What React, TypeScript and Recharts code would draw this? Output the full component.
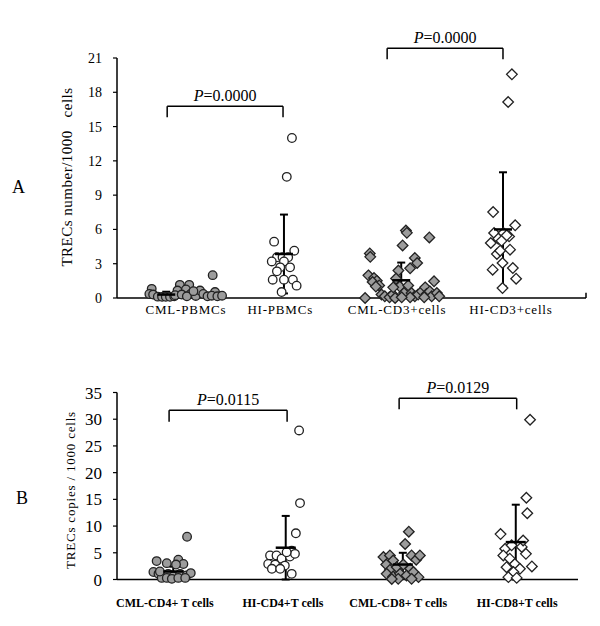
import React from 'react';
import { ScatterChart, Scatter, XAxis, YAxis, ErrorBar, ReferenceLine } from 'recharts';

// x values are positions along the horizontal axis (0-10), y values are TRECs / 1000 cells

// ---- panel A ----
const groupsA = ['CML-PBMCs', 'HI-PBMCs', 'CML-CD3+cells', 'HI-CD3+cells'];
const tickPosA = [1.47, 3.48, 5.97, 8.4];
const yTicksA = [0, 3, 6, 9, 12, 15, 18, 21];

const cmlPbmcs = [
  [0.74, 0.8], [0.69, 0.35], [0.77, 0.3], [0.87, 0.12], [0.96, 0.1], [1.04, 0.1], [1.13, 0.1],
  [1.22, 0.15], [1.34, 1.15], [1.54, 1.15], [1.29, 0.65], [1.47, 0.75], [1.24, 0.25], [1.38, 0.3],
  [1.57, 0.35], [1.68, 0.18], [1.77, 0.65], [1.84, 0.35], [1.93, 0.15], [2.04, 2.0], [2.09, 0.52],
  [2.02, 0.2], [2.14, 0.15], [2.24, 0.2], [1.49, 0.15], [1.63, 0.6],
];
const hiPbmcs = [
  [3.73, 14.0], [3.62, 10.6], [3.35, 4.93], [3.78, 4.14], [3.41, 3.56], [3.53, 3.56], [3.65, 3.56],
  [3.3, 3.2], [3.56, 3.2], [3.48, 2.68], [3.69, 2.68], [3.41, 2.33], [3.32, 1.6], [3.56, 1.6],
  [3.75, 1.6], [3.83, 1.08], [3.51, 0.52],
];
const cmlCd3 = [
  [5.29, 0.0], [5.39, 3.9], [5.4, 3.6], [5.36, 1.98], [5.48, 1.75], [5.54, 1.5], [5.45, 1.4],
  [5.59, 1.1], [5.52, 1.0], [5.64, 0.3], [5.71, 0.15], [5.81, 0.06], [5.88, 0.3], [5.93, 0.0],
  [6.16, 5.9], [6.18, 5.7], [6.09, 4.6], [6.66, 5.3], [6.35, 3.5], [6.4, 3.06], [6.25, 2.6],
  [6.0, 2.4], [5.95, 1.7], [6.03, 1.0], [5.89, 0.93], [6.21, 1.1], [6.12, 0.44], [6.28, 0.44],
  [6.35, 0.15], [6.42, 0.3], [6.5, 0.58], [6.57, 0.93], [6.6, 0.35], [6.67, 0.58], [6.76, 1.46],
  [6.71, 0.15], [6.82, 0.44], [6.87, 0.15], [6.55, 0.06], [6.25, 0.06], [6.07, 0.06],
];
const hiCd3 = [
  [8.42, 19.57], [8.34, 17.15], [8.02, 7.52], [8.49, 6.36], [8.04, 5.69], [8.24, 5.69], [8.36, 5.39],
  [7.97, 4.81], [8.13, 5.19], [8.2, 5.0], [8.38, 4.23], [8.1, 3.85], [8.01, 2.48], [8.22, 3.06],
  [8.44, 2.62], [8.51, 1.69], [8.22, 0.87], [8.17, 4.14], [8.31, 5.48],
];
const meanPosA = [1.05, 3.56, 6.06, 8.23];
const meanA = [0.3, 3.85, 1.55, 6.0];
const sdA = [0.25, 3.45, 1.55, 5.0];

const bracketFromA = [1.07, 5.76];
const bracketToA = [3.54, 8.23];
const bracketTopA = [16.77, 21.85];
const bracketTipA = [15.81, 20.88];
const pValuesA = ['0.0000', '0.0000'];

// ---- panel B ----
const groupsB = ['CML-CD4+ T cells', 'HI-CD4+T cells', 'CML-CD8+ T cells', 'HI-CD8+T cells'];
const tickPosB = [1.04, 3.6, 6.1, 8.68];
const yTicksB = [0, 5, 10, 15, 20, 25, 30, 35];

const cmlCd4 = [
  [1.52, 8.0], [0.86, 3.44], [1.08, 3.06], [1.33, 3.7], [1.44, 2.9], [1.28, 2.8], [0.79, 1.4],
  [0.9, 1.06], [1.0, 0.75], [1.11, 1.06], [1.22, 0.56], [1.37, 1.06], [1.51, 0.75], [1.6, 1.2],
  [0.97, 0.3], [1.08, 0.3], [1.19, 0.12], [1.33, 0.3], [1.48, 0.3], [0.93, 1.5],
];
const hiCd4 = [
  [3.95, 27.9], [3.97, 14.3], [3.88, 8.65], [3.32, 4.5], [3.46, 4.5], [3.79, 5.4], [3.57, 3.9],
  [3.75, 4.3], [3.86, 4.8], [3.28, 2.9], [3.43, 2.8], [3.64, 2.6], [3.36, 2.0], [3.54, 2.0],
  [3.79, 1.06], [3.68, 5.1],
];
const cmlCd8 = [
  [6.33, 8.95], [6.25, 6.65], [5.78, 4.2], [5.92, 4.5], [5.99, 3.56], [5.84, 2.8], [6.39, 4.5],
  [6.49, 3.7], [6.57, 4.5], [5.92, 1.8], [6.07, 2.3], [6.21, 2.8], [6.36, 2.0], [5.85, 1.06],
  [5.99, 0.56], [6.14, 1.06], [6.28, 0.75], [6.43, 1.4], [6.54, 0.44], [6.1, 0.12], [6.39, 0.12],
  [5.96, 0.1],
];
const hiCd8 = [
  [8.96, 29.9], [8.88, 15.3], [8.9, 12.4], [8.32, 8.5], [8.42, 5.75], [8.56, 6.4], [8.78, 6.1],
  [8.87, 4.8], [9.0, 2.44], [8.38, 4.5], [8.52, 3.9], [8.63, 2.9], [8.45, 2.3], [8.74, 2.0],
  [8.6, 1.4], [8.49, 0.44], [8.67, 0.3], [8.81, 7.3],
];
const meanPosB = [1.22, 3.66, 6.2, 8.65];
const meanB = [1.5, 5.95, 2.8, 7.0];
const sdB = [0.9, 5.95, 2.2, 7.0];

const bracketFromB = [1.13, 6.12];
const bracketToB = [3.69, 8.67];
const bracketTopB = [31.67, 33.91];
const bracketTipB = [29.53, 31.85];
const pValuesB = ['0.0115', '0.0129'];

const toPoints = (arr: number[][]) => arr.map(([x, y]) => ({ x, y }));
const GRAY = '#9c9c9c';

const circleShape = (fill: string) => (props: any) => (
  <circle cx={props.cx} cy={props.cy} r={4.3} fill={fill} stroke="#222" strokeWidth={1.3} />
);
const diamondShape = (fill: string) => (props: any) => {
  const { cx, cy } = props;
  const s = 5.3;
  return (
    <polygon
      points={`${cx},${cy - s} ${cx + s},${cy} ${cx},${cy + s} ${cx - s},${cy}`}
      fill={fill}
      stroke="#222"
      strokeWidth={1.3}
    />
  );
};
const meanShape = (half: number) => (props: any) => (
  <line x1={props.cx - half} x2={props.cx + half} y1={props.cy} y2={props.cy} stroke="#000" strokeWidth={2.5} />
);

const pLabel = (p: string) => (props: any) => {
  const vb = props.viewBox || {};
  const x = (vb.x ?? 0) + (vb.width ?? 0) / 2;
  const y = (vb.y ?? 0) - 5;
  return (
    <text x={x} y={y} textAnchor="middle" fontSize={16} fill="#000">
      <tspan fontStyle="italic">P</tspan>={p}
    </text>
  );
};

const renderBrackets = (from: number[], to: number[], top: number[], tip: number[], p: string[]) =>
  from.map((f, i) => [
    <ReferenceLine key={`l${i}`} ifOverflow="visible" stroke="#000" strokeWidth={1.5}
      segment={[{ x: f, y: tip[i] }, { x: f, y: top[i] }]} />,
    <ReferenceLine key={`h${i}`} ifOverflow="visible" stroke="#000" strokeWidth={1.5}
      segment={[{ x: f, y: top[i] }, { x: to[i], y: top[i] }]} label={pLabel(p[i])} />,
    <ReferenceLine key={`r${i}`} ifOverflow="visible" stroke="#000" strokeWidth={1.5}
      segment={[{ x: to[i], y: tip[i] }, { x: to[i], y: top[i] }]} />,
  ]);

const meanData = (pos: number[], mean: number[], sd: number[]) =>
  pos.map((x, i) => ({ x, y: mean[i], sd: sd[i] }));

const axisLine = { stroke: '#000', strokeWidth: 1.5 };

const sideText = (text: string, left: number, top: number, size: number, rotate = false, spacing = 0) => (
  <div
    style={{
      position: 'absolute',
      left,
      top,
      transform: `translate(-50%, -50%)${rotate ? ' rotate(-90deg)' : ''}`,
      fontSize: size,
      letterSpacing: spacing,
      whiteSpace: 'pre',
      lineHeight: 1,
      color: '#000',
    }}
  >
    {text}
  </div>
);

export default function App() {
  return (
    <div
      style={{
        position: 'absolute',
        left: 0,
        top: 0,
        width: 600,
        height: 626,
        background: '#fff',
        fontFamily: "'Liberation Serif', 'Times New Roman', serif",
      }}
    >
      <div style={{ position: 'absolute', left: 0, top: 0 }}>
        <ScatterChart width={600} height={320} margin={{ top: 58, right: 14, left: 57, bottom: 0 }}>
          <XAxis type="number" dataKey="x" domain={[0, 10]} ticks={tickPosA} interval={0}
            tickFormatter={(v: number) => groupsA[tickPosA.indexOf(v)] ?? ''}
            axisLine={axisLine} tickLine={false} tickSize={0} tickMargin={7} height={22}
            tick={{ fontSize: 13, fill: '#000', letterSpacing: 0.8 }} />
          <YAxis type="number" dataKey="y" domain={[0, 21]} ticks={yTicksA} interval={0}
            axisLine={axisLine} tickLine={{ stroke: '#000', strokeWidth: 1.2 }} tickSize={4} tickMargin={11}
            width={60} tick={{ fontSize: 14, fill: '#000' }} />
          <Scatter data={toPoints(cmlPbmcs)} shape={circleShape(GRAY)} isAnimationActive={false} />
          <Scatter data={toPoints(hiPbmcs)} shape={circleShape('#fff')} isAnimationActive={false} />
          <Scatter data={toPoints(cmlCd3)} shape={diamondShape(GRAY)} isAnimationActive={false} />
          <Scatter data={toPoints(hiCd3)} shape={diamondShape('#fff')} isAnimationActive={false} />
          <Scatter data={meanData(meanPosA, meanA, sdA)} shape={meanShape(9)} isAnimationActive={false}>
            <ErrorBar dataKey="sd" direction="y" width={4} stroke="#000" strokeWidth={2} />
          </Scatter>
          {renderBrackets(bracketFromA, bracketToA, bracketTopA, bracketTipA, pValuesA)}
          <ReferenceLine ifOverflow="visible" stroke="#000" strokeWidth={1.5}
            segment={[{ x: 10, y: 0 }, { x: 10, y: 0.45 }]} />
        </ScatterChart>
      </div>

      <div style={{ position: 'absolute', left: 0, top: 320 }}>
        <ScatterChart width={600} height={306} margin={{ top: 72.5, right: 22, left: 57, bottom: 16.5 }}>
          <XAxis type="number" dataKey="x" domain={[0, 10]} ticks={tickPosB} interval={0}
            tickFormatter={(v: number) => groupsB[tickPosB.indexOf(v)] ?? ''}
            axisLine={axisLine} tickLine={false} tickSize={0} tickMargin={19} height={30}
            tick={{ fontSize: 12, fill: '#000', fontWeight: 'bold' }} />
          <YAxis type="number" dataKey="y" domain={[0, 35]} ticks={yTicksB} interval={0}
            axisLine={axisLine} tickLine={{ stroke: '#000', strokeWidth: 1.2 }} tickSize={4} tickMargin={11}
            width={60} tick={{ fontSize: 17, fill: '#000' }} />
          <Scatter data={toPoints(cmlCd4)} shape={circleShape(GRAY)} isAnimationActive={false} />
          <Scatter data={toPoints(hiCd4)} shape={circleShape('#fff')} isAnimationActive={false} />
          <Scatter data={toPoints(cmlCd8)} shape={diamondShape(GRAY)} isAnimationActive={false} />
          <Scatter data={toPoints(hiCd8)} shape={diamondShape('#fff')} isAnimationActive={false} />
          <Scatter data={meanData(meanPosB, meanB, sdB)} shape={meanShape(10)} isAnimationActive={false}>
            <ErrorBar dataKey="sd" direction="y" width={4} stroke="#000" strokeWidth={2} />
          </Scatter>
          {renderBrackets(bracketFromB, bracketToB, bracketTopB, bracketTipB, pValuesB)}
        </ScatterChart>
      </div>

      {sideText('A', 18.5, 187, 18)}
      {sideText('TRECs number/1000   cells', 67, 177, 15, true, 0.5)}
      {sideText('B', 22, 498, 18)}
      {sideText('TRECs copies / 1000 cells', 70, 490, 13, true, 0.8)}
    </div>
  );
}
